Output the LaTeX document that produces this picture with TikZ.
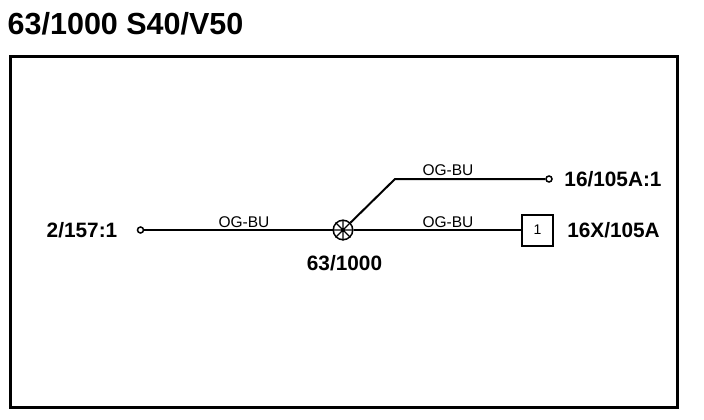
\documentclass[tikz,border=0pt]{standalone}
\usepackage{fontspec}
\setmainfont{Liberation Sans}
\begin{document}
\begin{tikzpicture}[x=1pt,y=-1pt,
  lab/.style={inner sep=0pt,font=\fontsize{20.8}{24}\selectfont\bfseries},
  wirelab/.style={inner sep=0pt,font=\fontsize{15.5}{18}\selectfont},
  wire/.style={line width=2pt},
  term/.style={circle,draw,line width=1.5pt,fill=white,minimum size=6pt,inner sep=0pt}]
\useasboundingbox (0,0) rectangle (704,420);
\node[anchor=west,inner sep=0pt,font=\fontsize{30.5}{36}\selectfont\bfseries] (title) at (7.5,23.5) {63/1000 S40/V50};
\node[draw,line width=3pt,minimum width=667pt,minimum height=350.5pt,anchor=north west,inner sep=0pt] (frame) at (8.5,55) {};
\node[term] (t1) at (140.5,230) {};
\node[circle,draw,line width=1.5pt,minimum size=19.5pt,inner sep=0pt] (splice) at (343,230) {};
\node[term] (t2) at (549,179) {};
\node[draw,line width=2pt,minimum width=31pt,minimum height=31pt,inner sep=0pt,font=\fontsize{14}{16}\selectfont] (box) at (537.5,230) {1};
\coordinate (bend) at (395,179);
\draw[wire] (t1) -- (splice);
\draw[wire] (splice) -- (box);
\draw[wire] (splice) -- (bend) -- (t2);
\draw[line width=1.1pt] (splice.north west) -- (splice.south east) (splice.north east) -- (splice.south west) (splice.north) -- (splice.south) (splice.west) -- (splice.east);
\node[wirelab] (w1) at (244,222) {OG-BU};
\node[wirelab] (w2) at (448,222) {OG-BU};
\node[wirelab] (w3) at (448,170) {OG-BU};
\node[lab] (l1) at (82,230) {2/157:1};
\node[lab] (l2) at (344.5,263) {63/1000};
\node[lab] (l3) at (613,179.5) {16/105A:1};
\node[lab] (l4) at (613.5,230) {16X/105A};
\end{tikzpicture}
\end{document}
